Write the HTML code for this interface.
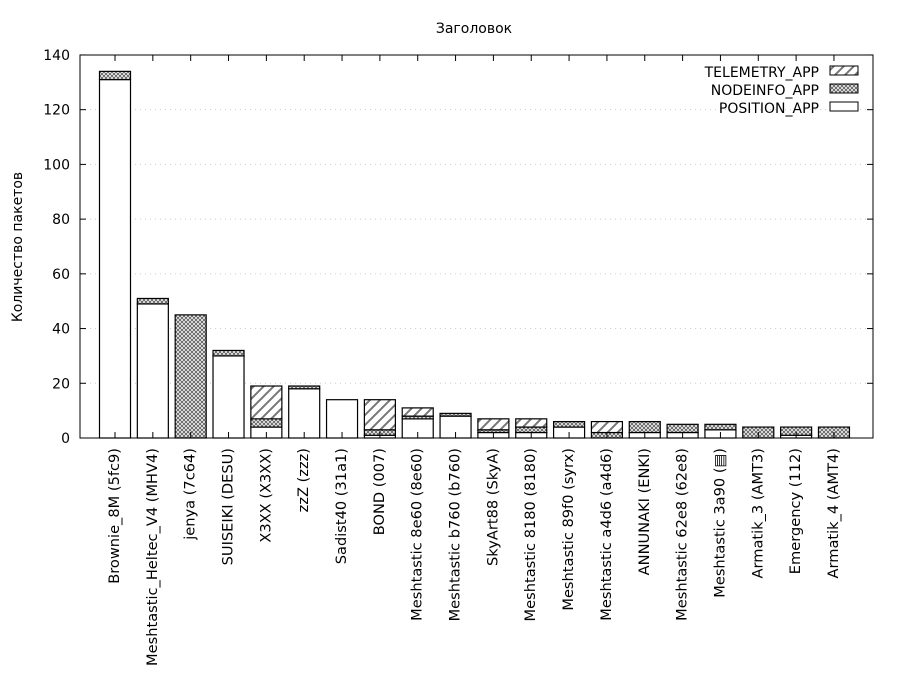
<!DOCTYPE html>
<html><head><meta charset="utf-8"><style>body{margin:0;background:#fff}svg{display:block}text{font-family:"DejaVu Sans","Liberation Sans",sans-serif;font-size:14px;fill:#000}</style></head><body>
<svg width="900" height="700" viewBox="0 0 900 700" xmlns="http://www.w3.org/2000/svg">
<defs>
<pattern id="x" width="4" height="4" patternUnits="userSpaceOnUse"><rect width="4" height="4" fill="#fff"/><path d="M0,0L4,4M4,0L0,4" stroke="#666" stroke-width="1"/></pattern>
<pattern id="h" width="10" height="10" patternUnits="userSpaceOnUse"><rect width="10" height="10" fill="#fff"/><path d="M-2,12L12,-2M-2,2L2,-2M8,12L12,8" stroke="#777" stroke-width="2"/></pattern>
</defs>
<text x="474" y="33" text-anchor="middle">Заголовок</text>
<text transform="translate(22,247) rotate(-90)" text-anchor="middle">Количество пакетов</text>
<g id="grid" stroke="#ccc" stroke-dasharray="1,4" stroke-width="1"></g>
<g id="bars"></g>
<rect x="80" y="55" width="793" height="383" fill="none" stroke="#000" stroke-width="1"/>
<g id="ticks" stroke="#000"></g>
<g id="lab"></g>
<g>
<text x="819" y="77" text-anchor="end">TELEMETRY_APP</text>
<rect x="830" y="66" width="28" height="9" fill="url(#h)" stroke="#000"/>
<text x="819" y="95" text-anchor="end">NODEINFO_APP</text>
<rect x="830" y="84" width="28" height="9" fill="url(#x)" stroke="#000"/>
<text x="819" y="113" text-anchor="end">POSITION_APP</text>
<rect x="830" y="102" width="28" height="9" fill="#fff" stroke="#000"/>
</g>
<script>
var ns="http://www.w3.org/2000/svg";
function el(p,t,a,tx){var e=document.createElementNS(ns,t);for(var k in a)e.setAttribute(k,a[k]);if(tx)e.textContent=tx;document.getElementById(p).appendChild(e);}
function Y(v){return 438-v*2.736;}
for(var v=0;v<=140;v+=20){var y=Y(v);
 if(v>0&&v<140)el("grid","line",{x1:80,x2:873,y1:y,y2:y});
 el("ticks","line",{x1:80,x2:86,y1:y,y2:y});el("ticks","line",{x1:867,x2:873,y1:y,y2:y});
 el("lab","text",{x:70,y:y+5,"text-anchor":"end"},""+v);}
var d=[["Brownie_8M (5fc9)",131,3,0],["Meshtastic_Heltec_V4 (MHV4)",49,2,0],["jenya (7c64)",0,45,0],["SUISEIKI (DESU)",30,2,0],["X3XX (X3XX)",4,3,12],["zzZ (zzz)",18,1,0],["Sadist40 (31a1)",14,0,0],["BOND (007)",1,2,11],["Meshtastic 8e60 (8e60)",7,1,3],["Meshtastic b760 (b760)",8,1,0],["SkyArt88 (SkyA)",2,1,4],["Meshtastic 8180 (8180)",2,2,3],["Meshtastic 89f0 (syrx)",4,2,0],["Meshtastic a4d6 (a4d6)",0,2,4],["ANNUNAKI (ENKI)",2,4,0],["Meshtastic 62e8 (62e8)",2,3,0],["Meshtastic 3a90 (▤)",3,2,0],["Armatik_3 (AMT3)",0,4,0],["Emergency (112)",1,3,0],["Armatik_4 (AMT4)",0,4,0]];
d.forEach(function(r,i){var c=115+37.84*i,x=c-15.5,b=0;
 [[r[1],"#fff"],[r[2],"url(#x)"],[r[3],"url(#h)"]].forEach(function(s){if(s[0]>0){el("bars","rect",{x:x,y:Y(b+s[0]),width:31,height:s[0]*2.736,fill:s[1],stroke:"#000","stroke-width":1.2});b+=s[0];}});
 el("ticks","line",{x1:c,x2:c,y1:438,y2:432});el("ticks","line",{x1:c,x2:c,y1:55,y2:61});
 el("lab","text",{transform:"translate("+(c+4)+",448) rotate(-90)","text-anchor":"end","style":"font-size:14.6px"},r[0]);});
</script>
</svg>
</body></html>
